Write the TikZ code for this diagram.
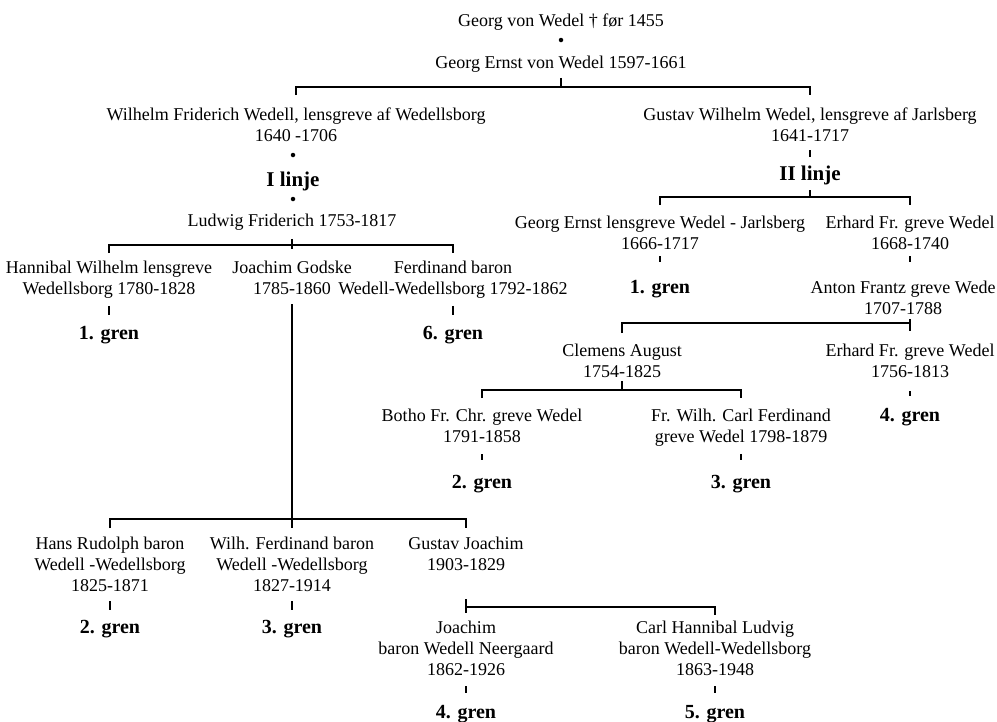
\documentclass[tikz,border=0pt]{standalone}
\usepackage{fontspec}
\setmainfont{Liberation Serif}
\usetikzlibrary{positioning}

\begin{document}
\begin{tikzpicture}[x=1pt, y=-1pt,
    person/.style={anchor=north, align=center, inner sep=0pt,
                   font=\fontsize{18}{21}\selectfont},
    gren/.style={anchor=north, inner sep=0pt,
                 font=\fontsize{20}{22}\selectfont\bfseries},
    linje/.style={anchor=north, inner sep=0pt,
                  font=\fontsize{21}{23}\selectfont\bfseries},
    dot/.style={circle, fill=black, inner sep=0pt, minimum size=4.5pt},
    bar/.style={line width=1.6pt}]
  \useasboundingbox (0,0) rectangle (997,721);

  % Stamfader
  \node[person] (gv) at (561,14) {Georg von Wedel † før 1455};
  \node[dot] (d0) at (561,40) {};
  \node[person] (ge) at (561,56) {Georg Ernst von Wedel 1597-1661};
  \coordinate (b0) at (561,87);
  \draw[bar, shorten <=5pt] (ge.south) -- (b0);

  % I linje
  \node[person] (wf) at (296,108)
        {Wilhelm Friderich Wedell, lensgreve af Wedellsborg\\1640 -1706};
  \node[dot] (d1) at (293,155) {};
  \node[linje] (l1) at (293,172) {I linje};
  \node[dot] (d2) at (293,199) {};
  \node[person] (lf) at (292,214) {Ludwig Friderich 1753-1817};
  \coordinate (b2) at (292,245);

  % II linje
  \node[person] (gw) at (810,108)
        {Gustav Wilhelm Wedel, lensgreve af Jarlsberg\\1641-1717};
  \node[linje] (l2) at (810,166) {II linje};
  \coordinate (b3) at (810,197);
  \draw[bar, shorten <=13pt, shorten >=13pt] (wf.north) |- (b0) -| (gw.north);
  \draw[bar, shorten <=8pt, shorten >=9pt] (gw.south) -- (l2.north);
  \draw[bar, shorten <=5pt] (l2.south) -- (b3);

  % Ludwig Friderich's soenner
  \node[person] (hw) at (109,261) {Hannibal Wilhelm lensgreve\\Wedellsborg 1780-1828};
  \node[person] (jg) at (292,261) {Joachim Godske\\1785-1860};
  \node[person] (fb) at (453,261) {Ferdinand baron\\Wedell-Wedellsborg 1792-1862};
  \node[gren] (g1a) at (109,326) {1. gren};
  \node[gren] (g6) at (453,326) {6. gren};
  \draw[bar, shorten <=8pt, shorten >=8pt] (hw.north) |- (b2) -| (fb.north);
  \draw[bar, shorten <=8pt, shorten >=12pt] (lf.south) -- (jg.north);
  \draw[bar, shorten <=7pt, shorten >=11pt] (hw.south) -- (g1a.north);
  \draw[bar, shorten <=7pt, shorten >=11pt] (fb.south) -- (g6.north);

  % Gustav Wilhelm's soenner
  \node[person] (gej) at (660,216) {Georg Ernst lensgreve Wedel - Jarlsberg\\1666-1717};
  \node[person] (ef1) at (910,216) {Erhard Fr. greve Wedel\\1668-1740};
  \node[gren] (g1b) at (660,280) {1. gren};
  \node[person] (af) at (903,281) {Anton Frantz greve Wede\\1707-1788};
  \draw[bar, shorten <=11pt, shorten >=11pt] (gej.north) |- (b3) -| (ef1.north);
  \draw[bar, shorten <=6pt, shorten >=18pt] (gej.south) -- (g1b.north);
  \draw[bar, shorten <=6pt, shorten >=19pt] (ef1.south) -- (ef1 |- af.north);

  % Anton Frantz's soenner
  \coordinate (b4) at (910,323);
  \node[person] (ca) at (622,344) {Clemens August\\1754-1825};
  \node[person] (ef2) at (910,344) {Erhard Fr. greve Wedel\\1756-1813};
  \node[gren] (g4b) at (910,408) {4. gren};
  \draw[bar, shorten <=11pt] (ca.north) |- (b4);
  \draw[bar, shorten <=4pt, shorten >=13pt] (ef1 |- af.south) -- (ef2.north);
  \draw[bar, shorten <=13pt, shorten >=12pt] (ef2.south) -- (g4b.north);

  % Clemens August's soenner
  \coordinate (b6) at (622,390);
  \node[person] (bo) at (482,409) {Botho Fr. Chr. greve Wedel\\1791-1858};
  \node[person] (fw) at (741,409) {Fr. Wilh. Carl Ferdinand\\greve Wedel 1798-1879};
  \node[gren] (g2b) at (482,475) {2. gren};
  \node[gren] (g3b) at (741,475) {3. gren};
  \draw[bar, shorten <=3pt] (ca.south) -- (b6);
  \draw[bar, shorten <=11pt, shorten >=11pt] (bo.north) |- (b6) -| (fw.north);
  \draw[bar, shorten <=11pt, shorten >=15pt] (bo.south) -- (g2b.north);
  \draw[bar, shorten <=7pt, shorten >=15pt] (fw.south) -- (g3b.north);

  % Joachim Godske's soenner
  \coordinate (b5) at (292,519);
  \node[person] (hr) at (110,537) {Hans Rudolph baron\\Wedell -Wedellsborg\\1825-1871};
  \node[person] (wfb) at (292,537) {Wilh. Ferdinand baron\\Wedell -Wedellsborg\\1827-1914};
  \node[person] (gj) at (466,537) {Gustav Joachim\\1903-1829};
  \node[gren] (g2a) at (110,620) {2. gren};
  \node[gren] (g3a) at (292,620) {3. gren};
  \draw[bar, shorten <=9pt, shorten >=9pt] (jg.south) -- (wfb.north);
  \draw[bar, shorten <=9pt, shorten >=9pt] (hr.north) |- (b5) -| (gj.north);
  \draw[bar, shorten <=9pt, shorten >=10pt] (hr.south) -- (g2a.north);
  \draw[bar, shorten <=9pt, shorten >=10pt] (wfb.south) -- (g3a.north);

  % Gustav Joachim's soenner
  \coordinate (b7) at (466,607);
  \node[person] (jn) at (466,621) {Joachim\\baron Wedell Neergaard\\1862-1926};
  \node[person] (ch) at (715,621) {Carl Hannibal Ludvig\\baron Wedell-Wedellsborg\\1863-1948};
  \node[gren] (g4c) at (466,705) {4. gren};
  \node[gren] (g5) at (715,705) {5. gren};
  \draw[bar, shorten <=28pt, shorten >=8pt] (gj.south) -- (jn.north);
  \draw[bar, shorten >=6pt] (b7) -| (ch.north);
  \draw[bar, shorten <=10pt, shorten >=12pt] (jn.south) -- (g4c.north);
  \draw[bar, shorten <=10pt, shorten >=12pt] (ch.south) -- (g5.north);
\end{tikzpicture}
\end{document}
